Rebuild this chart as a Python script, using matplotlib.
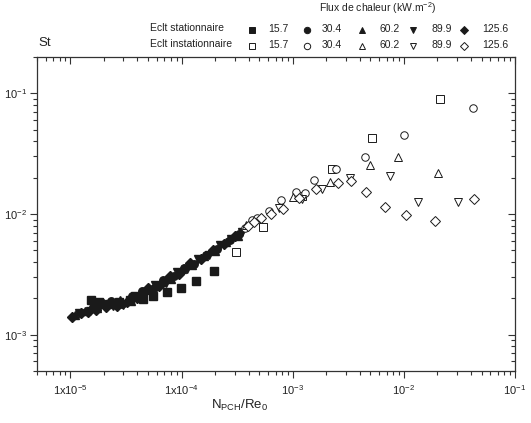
import numpy as np
import matplotlib
matplotlib.use('Agg')
from matplotlib import pyplot as plt
from matplotlib.lines import Line2D

plt.rcParams['font.family'] = ['Liberation Sans', 'DejaVu Sans']
plt.rcParams['mathtext.fontset'] = 'custom'
plt.rcParams['mathtext.rm'] = 'Liberation Sans'
plt.rcParams['mathtext.it'] = 'Liberation Sans'
plt.rcParams['mathtext.default'] = 'regular'

# --- data ---
flux = ['15.7', '30.4', '60.2', '89.9', '125.6']
symb = ['s', 'o', '^', 'v', 'D']

# stationary (filled)
xs_157 = [1.53e-5, 1.82e-5, 2.2e-5, 2.76e-5, 3.4e-5, 4.5e-5, 5.5e-5, 7.4e-5, 9.8e-5, 1.36e-4, 1.94e-4]
ys_157 = [1.92e-3, 1.85e-3, 1.80e-3, 1.85e-3, 1.92e-3, 1.97e-3, 2.10e-3, 2.25e-3, 2.45e-3, 2.80e-3, 3.37e-3]
xs_304 = [1.6e-5, 1.9e-5, 2.3e-5, 2.9e-5, 3.6e-5, 4.4e-5, 5.6e-5, 6.8e-5, 8.5e-5, 1.05e-4, 1.3e-4, 1.65e-4, 2.1e-4, 2.7e-4, 3.3e-4]
ys_304 = [1.70e-3, 1.88e-3, 1.90e-3, 1.78e-3, 2.08e-3, 2.3e-3, 2.45e-3, 2.85e-3, 3.05e-3, 3.55e-3, 3.85e-3, 4.6e-3, 5.1e-3, 6.1e-3, 6.8e-3]
xs_602 = [1.1e-5, 1.35e-5, 1.75e-5, 2.2e-5, 2.8e-5, 3.5e-5, 4.3e-5, 5.3e-5, 6.5e-5, 8.0e-5, 1.0e-4, 1.25e-4, 1.6e-4, 2.0e-4, 2.5e-4, 3.2e-4]
ys_602 = [1.45e-3, 1.58e-3, 1.65e-3, 1.82e-3, 1.95e-3, 1.90e-3, 2.25e-3, 2.35e-3, 2.75e-3, 2.9e-3, 3.5e-3, 3.75e-3, 4.45e-3, 4.9e-3, 5.9e-3, 6.6e-3]
xs_899 = [1.2e-5, 1.5e-5, 1.85e-5, 2.4e-5, 3.0e-5, 3.8e-5, 4.7e-5, 5.8e-5, 7.2e-5, 9.0e-5, 1.12e-4, 1.4e-4, 1.75e-4, 2.2e-4, 2.8e-4, 3.5e-4]
ys_899 = [1.5e-3, 1.56e-3, 1.72e-3, 1.74e-3, 1.76e-3, 2.1e-3, 2.18e-3, 2.58e-3, 2.7e-3, 3.3e-3, 3.5e-3, 4.2e-3, 4.6e-3, 5.5e-3, 6.2e-3, 7.1e-3]
xs_1256 = [1.03e-5, 1.25e-5, 1.43e-5, 1.7e-5, 2.1e-5, 2.6e-5, 3.2e-5, 4.0e-5, 5.0e-5, 6.2e-5, 7.8e-5, 9.5e-5, 1.2e-4, 1.5e-4, 1.9e-4, 2.4e-4, 3.0e-4]
ys_1256 = [1.40e-3, 1.51e-3, 1.53e-3, 1.60e-3, 1.70e-3, 1.74e-3, 1.86e-3, 2.02e-3, 2.42e-3, 2.52e-3, 3.05e-3, 3.2e-3, 3.9e-3, 4.2e-3, 5.05e-3, 5.6e-3, 6.6e-3]

# non-stationary (open)
xi_157 = [3.06e-4, 5.4e-4, 1.2e-3, 2.26e-3, 5.15e-3, 2.12e-2]
yi_157 = [4.85e-3, 7.8e-3, 1.42e-2, 2.36e-2, 4.28e-2, 9.04e-2]
xi_304 = [3.7e-4, 4.3e-4, 4.8e-4, 6.1e-4, 7.8e-4, 1.08e-3, 1.29e-3, 1.55e-3, 2.44e-3, 4.46e-3, 1.01e-2, 4.16e-2]
yi_304 = [7.6e-3, 8.9e-3, 9.3e-3, 1.06e-2, 1.30e-2, 1.53e-2, 1.48e-2, 1.91e-2, 2.37e-2, 2.98e-2, 4.5e-2, 7.57e-2]
xi_602 = [3.8e-4, 1.0e-3, 2.17e-3, 4.97e-3, 8.83e-3, 2.04e-2]
yi_602 = [8.1e-3, 1.38e-2, 1.85e-2, 2.53e-2, 2.94e-2, 2.17e-2]
xi_899 = [7.6e-4, 1.2e-3, 1.82e-3, 3.27e-3, 7.48e-3, 1.34e-2, 3.08e-2]
yi_899 = [1.13e-2, 1.32e-2, 1.60e-2, 1.99e-2, 2.07e-2, 1.25e-2, 1.265e-2]
xi_1256 = [3.95e-4, 4.5e-4, 5.2e-4, 6.4e-4, 8.2e-4, 1.14e-3, 1.61e-3, 2.58e-3, 3.33e-3, 4.61e-3, 6.7e-3, 1.04e-2, 1.89e-2, 4.31e-2]
yi_1256 = [7.9e-3, 8.6e-3, 9.2e-3, 9.95e-3, 1.11e-2, 1.35e-2, 1.62e-2, 1.80e-2, 1.875e-2, 1.53e-2, 1.15e-2, 9.9e-3, 8.8e-3, 1.34e-2]

stat = [(xs_157, ys_157), (xs_304, ys_304), (xs_602, ys_602), (xs_899, ys_899), (xs_1256, ys_1256)]
inst = [(xi_157, yi_157), (xi_304, yi_304), (xi_602, yi_602), (xi_899, yi_899), (xi_1256, yi_1256)]

fig = plt.figure(figsize=(5.31, 4.23), dpi=100)
ax = fig.add_axes([37/531, 52/423, 478/531, 314/423])

col = '#1a1a1a'
msz = {'s': 5.2, 'o': 5.4, '^': 5.6, 'v': 5.6, 'D': 4.6}
for (x, y), m in zip(stat, symb):
    ax.plot(x, y, m, color=col, ms=msz[m], mec=col, mfc=col, ls='none', clip_on=False)
for (x, y), m in zip(inst, symb):
    ax.plot(x, y, m, color=col, ms=msz[m], mec=col, mfc='white', mew=0.7, ls='none', clip_on=False)

ax.set_xscale('log')
ax.set_yscale('log')
ax.set_xlim(5e-6, 0.1)
ax.set_ylim(5e-4, 0.2)

for s in ax.spines.values():
    s.set_linewidth(0.9)
    s.set_color('#333333')

ax.set_xticks([1e-5, 1e-4, 1e-3, 1e-2, 1e-1])
ax.set_xticklabels([r'1x10$^{-5}$', r'1x10$^{-4}$', r'10$^{-3}$', r'10$^{-2}$', r'10$^{-1}$'])
ax.set_yticks([1e-3, 1e-2, 1e-1])
ax.set_yticklabels([r'10$^{-3}$', r'10$^{-2}$', r'10$^{-1}$'])
ax.tick_params(which='both', direction='out', width=0.8, colors='#333333', labelsize=8, labelcolor='#222222')
ax.tick_params(which='major', length=5)
ax.tick_params(which='minor', length=3)
ax.tick_params(axis='x', pad=4)
ax.tick_params(axis='y', pad=2)

# mirrored ticks pointing inward on top / right
axt = ax.twiny()
axt.set_xscale('log')
axt.set_xlim(ax.get_xlim())
axt.set_xticks([1e-5, 1e-4, 1e-3, 1e-2, 1e-1])
axt.tick_params(which='both', direction='in', width=0.8, colors='#333333', labeltop=False)
axt.tick_params(which='major', length=5)
axt.tick_params(which='minor', length=3)
axr = ax.twinx()
axr.set_yscale('log')
axr.set_ylim(ax.get_ylim())
axr.set_yticks([1e-3, 1e-2, 1e-1])
axr.tick_params(which='both', direction='in', width=0.8, colors='#333333', labelright=False)
axr.tick_params(which='major', length=5)
axr.tick_params(which='minor', length=3)
for a in (axt, axr):
    for s in a.spines.values():
        s.set_visible(False)

fig.text(240/531, 1 - 405/423, r'N$_{PCH}$/Re$_0$', ha='center', va='center', fontsize=9.5, color='#222222')
fig.text(38/531, 1 - 43/423, 'St', ha='left', va='center', fontsize=9.5, color='#222222')

# legend block
fig.text(378/531, 1 - 8/423, r'Flux de chaleur (kW.m$^{-2}$)', ha='center', va='center', fontsize=7.5, color='#222222')
rows = [('Eclt stationnaire', 30, col), ('Eclt instationnaire', 46, 'white')]
mx = [252, 307, 362, 413, 464]
tx = [268, 322, 380, 432, 482]
for lab, yy, fc in rows:
    fig.text(150/531, 1 - (yy - 2)/423, lab, ha='left', va='center', fontsize=7.5, color='#222222')
    for m, xm, xt, fl in zip(symb, mx, tx, flux):
        fig.add_artist(Line2D([xm/531], [1 - yy/423], marker=m, ms=msz[m] - 0.8, mfc=fc, mec=col,
                              mew=0.7, color=col, ls='none', transform=fig.transFigure))
        fig.text(xt/531, 1 - (yy - 1)/423, fl, ha='left', va='center', fontsize=7.5, color='#222222')

plt.savefig('out.png', dpi=100)
